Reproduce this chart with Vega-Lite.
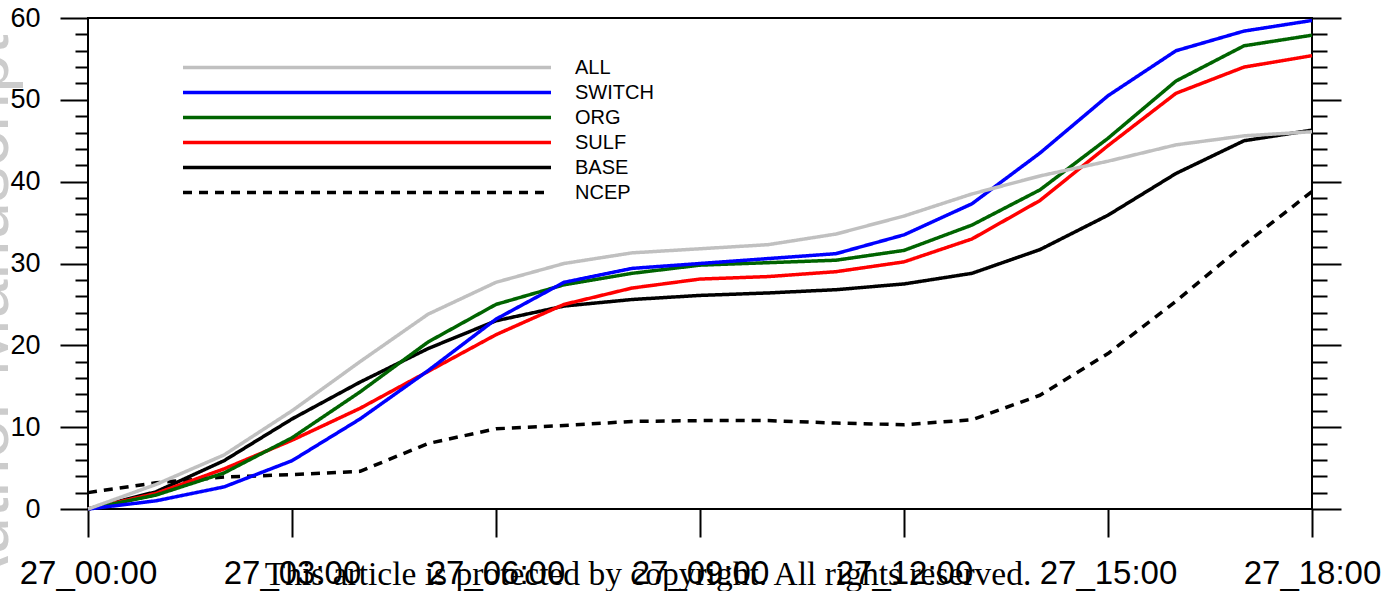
{
  "$schema": "https://vega.github.io/schema/vega-lite/v6.json",
  "width": 1224,
  "height": 491,
  "autosize": {"type": "none"},
  "padding": {"left": 88, "top": 18, "right": 75, "bottom": 82},
  "background": "white",
  "config": {
    "view": {"stroke": "black", "strokeWidth": 2},
    "font": "Liberation Sans"
  },
  "title": {
    "text": "This article is protected by copyright. All rights reserved.",
    "orient": "bottom",
    "anchor": "middle",
    "font": "Liberation Serif",
    "fontSize": 33.5,
    "fontWeight": "normal",
    "color": "black",
    "dx": -52,
    "offset": -43
  },
  "data": {
    "values": [
      {"run": "NCEP", "hour": 0, "value": 2.0},
      {"run": "NCEP", "hour": 1, "value": 3.2},
      {"run": "NCEP", "hour": 2, "value": 3.9},
      {"run": "NCEP", "hour": 3, "value": 4.2},
      {"run": "NCEP", "hour": 4, "value": 4.6},
      {"run": "NCEP", "hour": 5, "value": 8.0},
      {"run": "NCEP", "hour": 6, "value": 9.8},
      {"run": "NCEP", "hour": 7, "value": 10.2},
      {"run": "NCEP", "hour": 8, "value": 10.7},
      {"run": "NCEP", "hour": 9, "value": 10.8},
      {"run": "NCEP", "hour": 10, "value": 10.8},
      {"run": "NCEP", "hour": 11, "value": 10.5},
      {"run": "NCEP", "hour": 12, "value": 10.3},
      {"run": "NCEP", "hour": 13, "value": 10.9},
      {"run": "NCEP", "hour": 14, "value": 13.9},
      {"run": "NCEP", "hour": 15, "value": 19.0},
      {"run": "NCEP", "hour": 16, "value": 25.4},
      {"run": "NCEP", "hour": 17, "value": 32.3},
      {"run": "NCEP", "hour": 18, "value": 38.8},

      {"run": "BASE", "hour": 0, "value": 0},
      {"run": "BASE", "hour": 1, "value": 2.1},
      {"run": "BASE", "hour": 2, "value": 5.9},
      {"run": "BASE", "hour": 3, "value": 11.0},
      {"run": "BASE", "hour": 4, "value": 15.5},
      {"run": "BASE", "hour": 5, "value": 19.6},
      {"run": "BASE", "hour": 6, "value": 23.0},
      {"run": "BASE", "hour": 7, "value": 24.8},
      {"run": "BASE", "hour": 8, "value": 25.6},
      {"run": "BASE", "hour": 9, "value": 26.1},
      {"run": "BASE", "hour": 10, "value": 26.4},
      {"run": "BASE", "hour": 11, "value": 26.8},
      {"run": "BASE", "hour": 12, "value": 27.5},
      {"run": "BASE", "hour": 13, "value": 28.8},
      {"run": "BASE", "hour": 14, "value": 31.7},
      {"run": "BASE", "hour": 15, "value": 35.9},
      {"run": "BASE", "hour": 16, "value": 41.0},
      {"run": "BASE", "hour": 17, "value": 45.0},
      {"run": "BASE", "hour": 18, "value": 46.3},

      {"run": "SULF", "hour": 0, "value": 0},
      {"run": "SULF", "hour": 1, "value": 1.9},
      {"run": "SULF", "hour": 2, "value": 4.9},
      {"run": "SULF", "hour": 3, "value": 8.4},
      {"run": "SULF", "hour": 4, "value": 12.3},
      {"run": "SULF", "hour": 5, "value": 16.8},
      {"run": "SULF", "hour": 6, "value": 21.3},
      {"run": "SULF", "hour": 7, "value": 25.0},
      {"run": "SULF", "hour": 8, "value": 27.0},
      {"run": "SULF", "hour": 9, "value": 28.1},
      {"run": "SULF", "hour": 10, "value": 28.4},
      {"run": "SULF", "hour": 11, "value": 29.0},
      {"run": "SULF", "hour": 12, "value": 30.2},
      {"run": "SULF", "hour": 13, "value": 33.0},
      {"run": "SULF", "hour": 14, "value": 37.7},
      {"run": "SULF", "hour": 15, "value": 44.4},
      {"run": "SULF", "hour": 16, "value": 50.8},
      {"run": "SULF", "hour": 17, "value": 54.0},
      {"run": "SULF", "hour": 18, "value": 55.4},

      {"run": "ORG", "hour": 0, "value": 0},
      {"run": "ORG", "hour": 1, "value": 1.7},
      {"run": "ORG", "hour": 2, "value": 4.4},
      {"run": "ORG", "hour": 3, "value": 8.7},
      {"run": "ORG", "hour": 4, "value": 14.3},
      {"run": "ORG", "hour": 5, "value": 20.4},
      {"run": "ORG", "hour": 6, "value": 25.0},
      {"run": "ORG", "hour": 7, "value": 27.4},
      {"run": "ORG", "hour": 8, "value": 28.8},
      {"run": "ORG", "hour": 9, "value": 29.8},
      {"run": "ORG", "hour": 10, "value": 30.1},
      {"run": "ORG", "hour": 11, "value": 30.4},
      {"run": "ORG", "hour": 12, "value": 31.6},
      {"run": "ORG", "hour": 13, "value": 34.7},
      {"run": "ORG", "hour": 14, "value": 39.0},
      {"run": "ORG", "hour": 15, "value": 45.3},
      {"run": "ORG", "hour": 16, "value": 52.3},
      {"run": "ORG", "hour": 17, "value": 56.6},
      {"run": "ORG", "hour": 18, "value": 57.9},

      {"run": "SWITCH", "hour": 0, "value": 0},
      {"run": "SWITCH", "hour": 1, "value": 1.0},
      {"run": "SWITCH", "hour": 2, "value": 2.7},
      {"run": "SWITCH", "hour": 3, "value": 5.9},
      {"run": "SWITCH", "hour": 4, "value": 11.0},
      {"run": "SWITCH", "hour": 5, "value": 16.9},
      {"run": "SWITCH", "hour": 6, "value": 23.2},
      {"run": "SWITCH", "hour": 7, "value": 27.7},
      {"run": "SWITCH", "hour": 8, "value": 29.4},
      {"run": "SWITCH", "hour": 9, "value": 30.0},
      {"run": "SWITCH", "hour": 10, "value": 30.6},
      {"run": "SWITCH", "hour": 11, "value": 31.2},
      {"run": "SWITCH", "hour": 12, "value": 33.5},
      {"run": "SWITCH", "hour": 13, "value": 37.3},
      {"run": "SWITCH", "hour": 14, "value": 43.5},
      {"run": "SWITCH", "hour": 15, "value": 50.5},
      {"run": "SWITCH", "hour": 16, "value": 56.0},
      {"run": "SWITCH", "hour": 17, "value": 58.4},
      {"run": "SWITCH", "hour": 18, "value": 59.7},

      {"run": "ALL", "hour": 0, "value": 0},
      {"run": "ALL", "hour": 1, "value": 3.0},
      {"run": "ALL", "hour": 2, "value": 6.6},
      {"run": "ALL", "hour": 3, "value": 12.0},
      {"run": "ALL", "hour": 4, "value": 18.0},
      {"run": "ALL", "hour": 5, "value": 23.8},
      {"run": "ALL", "hour": 6, "value": 27.7},
      {"run": "ALL", "hour": 7, "value": 30.0},
      {"run": "ALL", "hour": 8, "value": 31.3},
      {"run": "ALL", "hour": 9, "value": 31.8},
      {"run": "ALL", "hour": 10, "value": 32.3},
      {"run": "ALL", "hour": 11, "value": 33.6},
      {"run": "ALL", "hour": 12, "value": 35.8},
      {"run": "ALL", "hour": 13, "value": 38.5},
      {"run": "ALL", "hour": 14, "value": 40.7},
      {"run": "ALL", "hour": 15, "value": 42.5},
      {"run": "ALL", "hour": 16, "value": 44.5},
      {"run": "ALL", "hour": 17, "value": 45.6},
      {"run": "ALL", "hour": 18, "value": 46.1}
    ]
  },
  "encoding": {
    "x": {
      "field": "hour",
      "type": "quantitative",
      "scale": {"domain": [0, 18], "nice": false, "zero": false},
      "axis": {
        "orient": "bottom",
        "values": [0, 3, 6, 9, 12, 15, 18],
        "labelExpr": "'27_' + (datum.value < 10 ? '0' : '') + datum.value + ':00'",
        "title": null,
        "grid": false,
        "domain": false,
        "tickSize": 28,
        "tickWidth": 2,
        "tickColor": "black",
        "labelFont": "Liberation Sans",
        "labelFontSize": 33,
        "labelColor": "black",
        "labelPadding": 20,
        "labelFlush": false,
        "labelOverlap": false,
        "labelBound": false
      }
    },
    "color": {
      "field": "run",
      "type": "nominal",
      "scale": {
        "domain": ["ALL", "SWITCH", "ORG", "SULF", "BASE", "NCEP"],
        "range": ["#c0c0c0", "#0000ff", "#006400", "#ff0000", "#000000", "#000000"]
      },
      "legend": {
        "orient": "none",
        "legendX": 93,
        "legendY": 37,
        "title": null,
        "symbolType": "stroke",
        "symbolSize": 135424,
        "symbolStrokeWidth": 3.5,
        "clipHeight": 25,
        "rowPadding": 0,
        "padding": 0,
        "labelOffset": 22,
        "labelFont": "Liberation Sans",
        "labelFontSize": 20,
        "labelColor": "black"
      }
    },
    "strokeDash": {
      "field": "run",
      "type": "nominal",
      "scale": {
        "domain": ["ALL", "SWITCH", "ORG", "SULF", "BASE", "NCEP"],
        "range": [[1, 0], [1, 0], [1, 0], [1, 0], [1, 0], [9, 7]]
      },
      "legend": {
        "orient": "none",
        "legendX": 93,
        "legendY": 37,
        "title": null,
        "symbolType": "stroke",
        "symbolSize": 135424,
        "symbolStrokeWidth": 3.5,
        "clipHeight": 25,
        "rowPadding": 0,
        "padding": 0,
        "labelOffset": 22,
        "labelFont": "Liberation Sans",
        "labelFontSize": 20,
        "labelColor": "black"
      }
    }
  },
  "layer": [
    {
      "transform": [{"filter": {"field": "run", "oneOf": ["NCEP", "BASE", "SULF"]}}],
      "mark": {"type": "line", "strokeWidth": 3.5, "strokeJoin": "round"},
      "encoding": {
        "y": {
          "field": "value",
          "type": "quantitative",
          "scale": {"domain": [0, 60], "nice": false},
          "axis": {
            "orient": "left",
            "values": [0, 2, 4, 6, 8, 10, 12, 14, 16, 18, 20, 22, 24, 26, 28, 30, 32, 34, 36, 38, 40, 42, 44, 46, 48, 50, 52, 54, 56, 58, 60],
            "labelExpr": "datum.value % 10 === 0 ? datum.label : ''",
            "tickSize": {"condition": {"test": "datum.value % 10 === 0", "value": 28}, "value": 13},
            "tickWidth": 2,
            "tickColor": "black",
            "domain": false,
            "grid": false,
            "labelFont": "Liberation Sans",
            "labelFontSize": 27,
            "labelColor": "black",
            "labelPadding": 20,
            "labelOverlap": false,
            "labelBound": false,
            "labelFlush": false,
            "title": "Author Manuscript",
            "titleFont": "Liberation Sans",
            "titleFontSize": 70,
            "titleFontWeight": "normal",
            "titleColor": "#cccccc",
            "titleAngle": 270,
            "titleAlign": "center",
            "titleBaseline": "alphabetic",
            "titleX": -81,
            "titleY": 300
          }
        }
      }
    },
    {
      "transform": [{"filter": {"field": "run", "oneOf": ["ORG", "SWITCH", "ALL"]}}],
      "mark": {"type": "line", "strokeWidth": 3.5, "strokeJoin": "round"},
      "encoding": {
        "y": {
          "field": "value",
          "type": "quantitative",
          "scale": {"domain": [0, 60], "nice": false},
          "axis": {
            "orient": "right",
            "values": [0, 2, 4, 6, 8, 10, 12, 14, 16, 18, 20, 22, 24, 26, 28, 30, 32, 34, 36, 38, 40, 42, 44, 46, 48, 50, 52, 54, 56, 58, 60],
            "labels": false,
            "tickSize": {"condition": {"test": "datum.value % 10 === 0", "value": 29}, "value": 15},
            "tickWidth": 2,
            "tickColor": "black",
            "domain": false,
            "grid": false,
            "title": null
          }
        }
      }
    }
  ],
  "resolve": {"scale": {"y": "shared"}, "axis": {"y": "independent"}}
}
